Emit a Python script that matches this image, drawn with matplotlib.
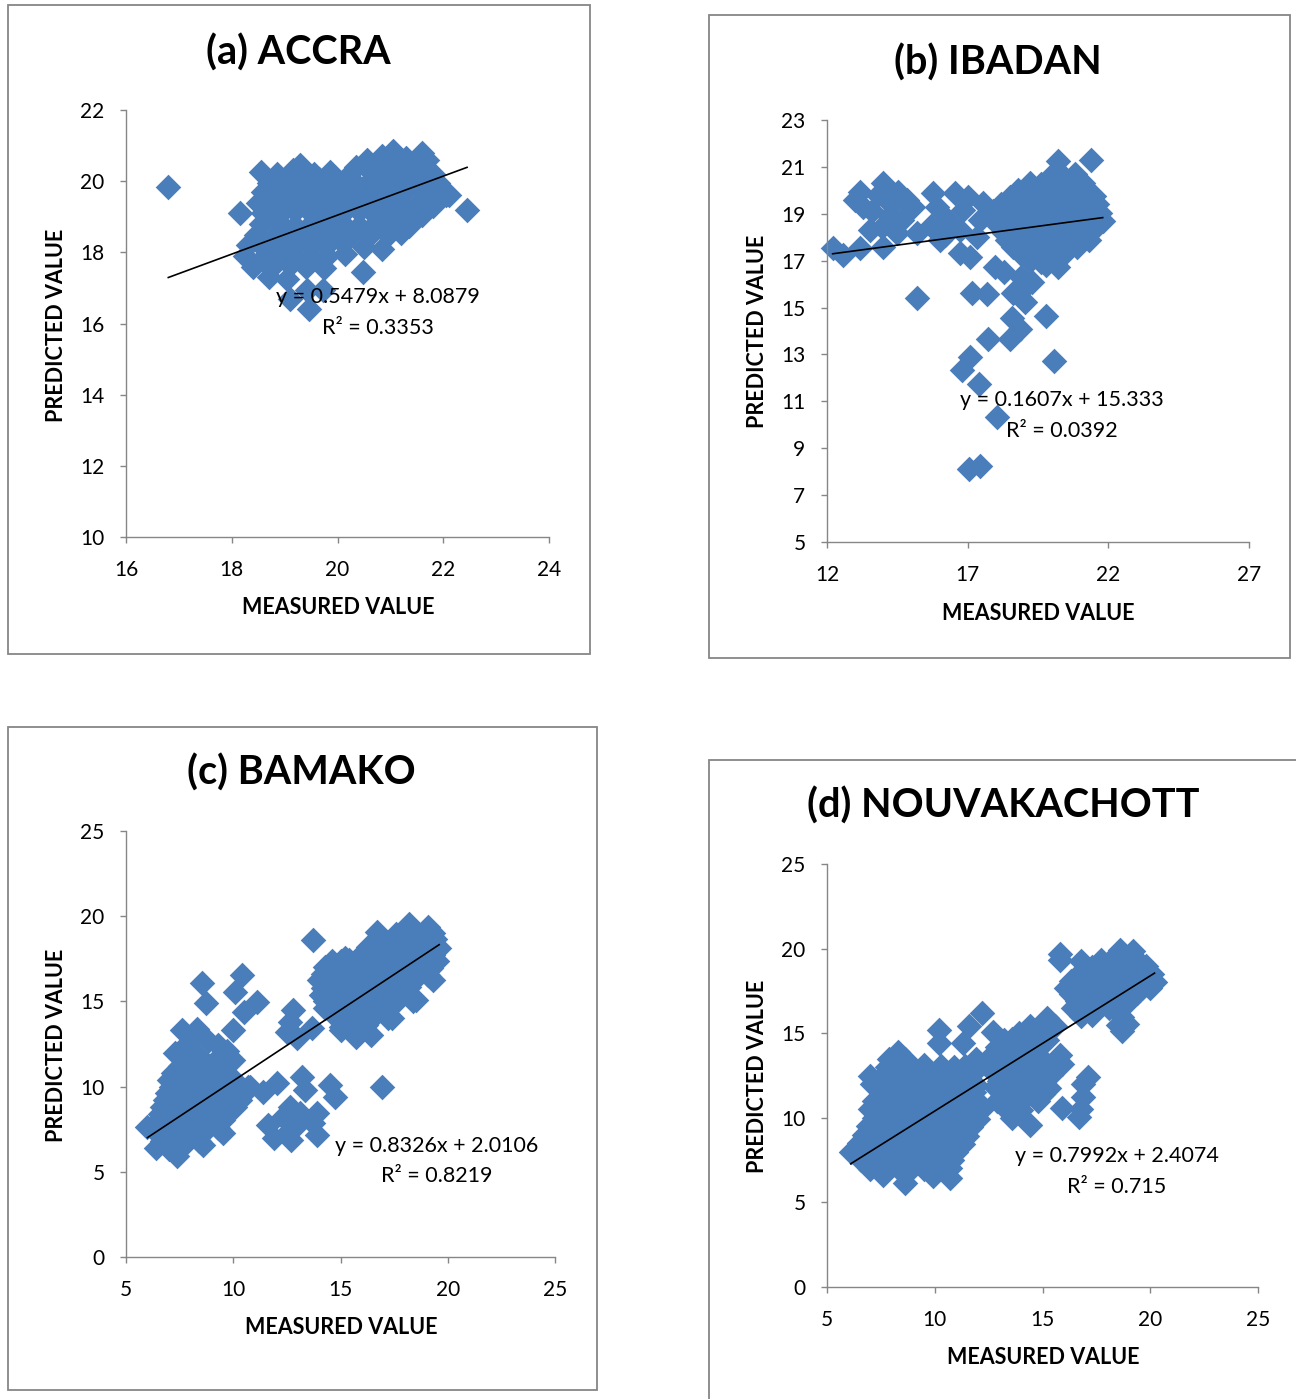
"""
Four-panel measured vs predicted scatter (Excel-style), one framed box per city.
"""
import matplotlib
matplotlib.use("Agg")
import matplotlib.pyplot as plt
from matplotlib.patches import Rectangle

W, H = 1296, 1399
plt.rcParams["font.family"] = ["Lato", "DejaVu Sans"]

BLUE  = "#4a7ebb"
GREY  = "#868686"

# ---------------- (a) ACCRA ----------------
ACCRA_MEASURED = [
    21.05, 21.6,
    20.55, 20.85, 21.3, 21.7,
    19.3, 20.35, 20.75, 21.1, 21.45,
    18.55, 18.85, 19.15, 19.55, 19.85, 20.2, 20.6, 20.95, 21.25, 21.55, 21.8,
    18.7, 19.0, 19.35, 19.65, 19.95, 20.3, 20.65, 20.95, 21.2, 21.5, 21.9,
    18.6, 18.9, 19.2, 19.5, 19.8, 20.1, 20.4, 20.7, 21.0, 21.3, 21.65, 22.05,
    18.5, 18.8, 19.1, 19.4, 19.7, 20.0, 20.3, 20.6, 20.9, 21.2, 21.5, 21.8,
    18.6, 18.9, 19.2, 19.5, 19.8, 20.1, 20.4, 20.7, 21.0, 21.3, 21.6,
    18.55, 18.9, 19.2, 19.5, 19.8, 20.1, 20.4, 20.7, 21.0, 21.35,
    18.45, 18.8, 19.1, 19.4, 19.7, 20.0, 20.3, 20.6, 20.95, 21.2,
    18.3, 18.6, 18.9, 19.2, 19.5, 19.8, 20.1, 20.5, 20.85,
    18.25, 18.6, 18.9, 19.2, 19.5, 19.8, 20.15,
    18.4, 18.75, 19.1, 19.4, 19.75,
    18.7, 19.05,
    16.8, 18.15, 22.45, 22.1, 19.42, 19.46, 19.72, 20.48, 19.1,
]
ACCRA_PREDICTED = [
    20.85, 20.8,
    20.6, 20.7, 20.65, 20.6,
    20.45, 20.4, 20.5, 20.45, 20.4,
    20.25, 20.2, 20.3, 20.2, 20.25, 20.15, 20.3, 20.25, 20.2, 20.3, 20.2,
    19.95, 20.0, 19.95, 20.05, 19.9, 20.0, 20.05, 19.95, 20.0, 20.05, 19.95,
    19.7, 19.65, 19.75, 19.7, 19.65, 19.7, 19.75, 19.7, 19.65, 19.75, 19.7, 19.6,
    19.4, 19.45, 19.35, 19.4, 19.45, 19.4, 19.35, 19.4, 19.45, 19.4, 19.35, 19.3,
    19.1, 19.05, 19.15, 19.1, 19.05, 19.1, 19.15, 19.05, 19.1, 19.0, 19.05,
    18.8, 18.85, 18.75, 18.8, 18.85, 18.8, 18.75, 18.8, 18.85, 18.75,
    18.5, 18.45, 18.55, 18.5, 18.45, 18.5, 18.55, 18.45, 18.5, 18.55,
    18.2, 18.15, 18.25, 18.2, 18.15, 18.2, 18.25, 18.15, 18.1,
    17.9, 17.85, 17.95, 17.9, 17.85, 17.9, 17.95,
    17.6, 17.55, 17.65, 17.6, 17.55,
    17.3, 17.25,
    19.85, 19.1, 19.2, 19.6, 16.94, 16.4, 16.95, 17.45, 16.7,
]

# ---------------- (b) IBADAN ----------------
IBADAN_MEASURED = [
    # sparse left part
    12.2, 12.57, 13.17, 14.0, 13.17, 13.28, 13.0, 13.53, 13.96, 14.0, 13.6, 14.52,
    14.31, 14.84, 15.06, 14.67, 15.2, 14.5, 15.77, 15.91, 16.0, 16.55, 17.0, 16.83,
    16.3, 16.73, 16.73, 17.08, 17.44, 17.55, 17.33, 15.7, 16.2, 14.2, 13.8,
    # low outliers
    15.2, 17.15, 17.69, 18.6, 19.04, 18.58, 18.86, 18.5, 19.78, 17.72, 17.08, 16.8,
    17.4, 20.07, 18.04, 17.05, 17.44, 19.1, 17.97, 18.3, 18.9, 19.3,
    # dense right cloud
    20.2, 21.4,
    20.0, 20.4, 20.8,
    19.2, 19.6, 19.9, 20.2, 20.5, 20.8, 21.1,
    18.8, 19.1, 19.4, 19.7, 20.0, 20.3, 20.6, 20.9, 21.2,
    18.5, 18.8, 19.1, 19.4, 19.7, 20.0, 20.3, 20.6, 20.9, 21.2, 21.5,
    18.2, 18.5, 18.8, 19.1, 19.4, 19.7, 20.0, 20.3, 20.6, 20.9, 21.2, 21.6,
    17.9, 18.3, 18.7, 19.0, 19.3, 19.6, 19.9, 20.2, 20.5, 20.8, 21.1, 21.4, 21.7,
    18.0, 18.4, 18.8, 19.1, 19.4, 19.7, 20.0, 20.3, 20.6, 20.9, 21.2, 21.5, 21.8,
    18.1, 18.5, 18.9, 19.2, 19.5, 19.8, 20.1, 20.4, 20.7, 21.0, 21.3, 21.6,
    18.3, 18.7, 19.0, 19.3, 19.6, 19.9, 20.2, 20.5, 20.8, 21.1, 21.4,
    18.4, 18.8, 19.2, 19.5, 19.8, 20.1, 20.4, 20.7, 21.0, 21.3,
    18.6, 19.0, 19.4, 19.7, 20.0, 20.3, 20.6, 20.9,
    18.9, 19.3, 19.7, 20.0, 20.4,
    19.2, 19.6, 20.1,
    19.8, 20.2,
]
IBADAN_PREDICTED = [
    17.54, 17.24, 17.54, 20.3, 19.93, 19.29, 19.6, 18.31, 18.44, 17.58, 19.1, 19.93,
    19.38, 19.6, 19.29, 18.74, 18.18, 18.18, 19.89, 19.29, 17.88, 19.89, 19.72, 19.16,
    18.74, 18.31, 17.33, 17.16, 18.74, 19.46, 18.01, 18.5, 18.1, 18.9, 19.8,
    15.41, 15.6, 15.58, 15.6, 15.24, 14.56, 14.09, 13.66, 14.64, 13.66, 12.89, 12.34,
    11.74, 12.72, 10.33, 8.11, 8.24, 15.96, 16.73, 16.5, 16.3, 16.1,
    21.25, 21.3,
    20.65, 20.6, 20.7,
    20.3, 20.25, 20.35, 20.3, 20.25, 20.35, 20.3,
    20.0, 19.95, 20.05, 20.0, 19.95, 20.0, 20.05, 20.0, 19.95,
    19.7, 19.65, 19.75, 19.7, 19.65, 19.7, 19.75, 19.7, 19.65, 19.7, 19.75,
    19.4, 19.35, 19.45, 19.4, 19.35, 19.4, 19.45, 19.4, 19.35, 19.4, 19.45, 19.4,
    19.1, 19.05, 19.15, 19.1, 19.05, 19.1, 19.15, 19.1, 19.05, 19.1, 19.15, 19.1, 19.05,
    18.8, 18.75, 18.85, 18.8, 18.75, 18.8, 18.85, 18.8, 18.75, 18.8, 18.85, 18.8, 18.7,
    18.5, 18.45, 18.55, 18.5, 18.45, 18.5, 18.55, 18.5, 18.45, 18.5, 18.55, 18.5,
    18.2, 18.15, 18.25, 18.2, 18.15, 18.2, 18.25, 18.2, 18.15, 18.2, 18.25,
    17.9, 17.85, 17.95, 17.9, 17.85, 17.9, 17.95, 17.9, 17.85, 17.9,
    17.6, 17.55, 17.65, 17.6, 17.55, 17.6, 17.65, 17.6,
    17.3, 17.25, 17.35, 17.3, 17.25,
    17.0, 16.95, 17.05,
    16.8, 16.75,
]

# ---------------- (c) BAMAKO ----------------
BAMAKO_MEASURED = [
    # lower-left cluster
    7.6, 8.3,
    8.8,
    7.9, 9.3,
    7.3, 8.2, 9.7,
    7.8, 8.5, 9.3, 10.0,
    7.5, 8.1, 8.8, 9.6,
    7.2, 7.7, 8.3, 8.9, 9.4,
    7.0, 7.5, 8.0, 8.5, 9.0, 9.5, 10.0,
    7.1, 7.6, 8.1, 8.6, 9.1, 9.6, 10.1, 10.7,
    6.9, 7.4, 7.9, 8.4, 8.9, 9.4, 9.9, 10.4,
    6.8, 7.3, 7.8, 8.3, 8.8, 9.3, 9.8, 10.3,
    6.7, 7.2, 7.7, 8.2, 8.7, 9.2, 9.7, 10.1,
    6.6, 7.1, 7.6, 8.1, 8.6, 9.1, 9.6,
    6.5, 7.0, 7.5, 8.0, 8.5, 9.0, 9.5,
    6.0, 6.6, 7.1, 7.6, 8.1, 8.6, 9.3,
    6.5, 7.0, 7.5, 8.0, 8.5, 9.5,
    6.7, 7.3, 7.9, 8.4,
    6.4, 7.0, 7.6, 8.6,
    7.4,
    # scattered above
    8.54, 10.4, 10.08, 8.73, 11.1, 10.5, 10.0,
    # middle-bottom group
    11.6, 12.04, 11.39, 10.78, 12.5, 12.65, 13.1, 13.2, 13.35, 13.9, 13.9, 13.7,
    14.5, 14.74, 16.94, 12.7, 12.3, 13.0, 11.9,
    # middle-upper
    13.72, 12.8, 12.65, 12.97, 12.5, 13.67,
    # upper-right cluster
    18.2, 19.1,
    16.7, 17.6, 18.0, 18.5, 18.9, 19.3,
    17.0, 17.4, 17.8, 18.2, 18.6, 19.0, 19.4,
    16.3, 16.8, 17.2, 17.6, 18.0, 18.4, 18.8, 19.2, 19.6,
    15.2, 16.0, 16.5, 16.9, 17.3, 17.7, 18.1, 18.5, 18.9, 19.3,
    14.6, 15.0, 15.4, 15.8, 16.2, 16.6, 17.0, 17.4, 17.8, 18.2, 18.6, 19.0, 19.5,
    14.3, 14.8, 15.2, 15.6, 16.0, 16.4, 16.8, 17.2, 17.6, 18.0, 18.4, 18.8, 19.2,
    14.2, 14.6, 15.0, 15.4, 15.8, 16.2, 16.6, 17.0, 17.4, 17.8, 18.2, 18.6, 19.1,
    14.0, 14.4, 14.8, 15.2, 15.6, 16.0, 16.4, 16.8, 17.2, 17.6, 18.0, 18.4, 19.3,
    14.2, 14.6, 15.0, 15.4, 15.8, 16.2, 16.6, 17.0, 17.4, 17.8, 18.2,
    14.1, 14.5, 14.9, 15.3, 15.7, 16.1, 16.5, 16.9, 17.3, 17.7, 18.1, 18.5,
    14.3, 14.7, 15.1, 15.5, 15.9, 16.3, 16.8, 17.2, 17.6, 18.4,
    14.3, 14.8, 15.2, 15.6, 16.0, 16.4, 17.0, 17.4,
    14.8, 15.4, 16.0, 16.5, 17.2,
    15.0, 15.5, 16.2,
    15.0, 15.7, 16.4,
]
BAMAKO_PREDICTED = [
    13.3, 13.4,
    12.7,
    12.55, 12.45,
    12.0, 11.95, 12.1,
    11.6, 11.55, 11.65, 11.55,
    11.2, 11.15, 11.25, 11.2,
    10.8, 10.75, 10.85, 10.8, 10.75,
    10.4, 10.35, 10.45, 10.4, 10.35, 10.4, 10.45,
    10.0, 9.95, 10.05, 10.0, 9.95, 10.0, 10.05, 9.95,
    9.6, 9.55, 9.65, 9.6, 9.55, 9.6, 9.65, 9.6,
    9.2, 9.15, 9.25, 9.2, 9.15, 9.2, 9.25, 9.2,
    8.8, 8.75, 8.85, 8.8, 8.75, 8.8, 8.85, 8.8,
    8.4, 8.35, 8.45, 8.4, 8.35, 8.4, 8.45,
    8.0, 7.95, 8.05, 8.0, 7.95, 8.0, 8.05,
    7.65, 7.6, 7.55, 7.6, 7.65, 7.6, 7.55,
    7.2, 7.15, 7.25, 7.2, 7.15, 7.25,
    6.8, 6.75, 6.85, 6.8,
    6.4, 6.35, 6.45, 6.55,
    5.9,
    16.08, 16.55, 15.55, 14.9, 14.96, 14.38, 13.32,
    7.75, 10.2, 9.68, 9.98, 7.27, 8.8, 8.45, 10.56, 9.8, 8.45, 7.16, 7.86,
    10.1, 9.39, 9.98, 6.87, 8.2, 7.8, 7.0,
    18.6, 14.5, 13.8, 12.85, 13.2, 13.44,
    19.55, 19.35,
    19.05, 18.95, 19.0, 19.05, 18.95, 19.0,
    18.6, 18.55, 18.65, 18.6, 18.55, 18.6, 18.65,
    18.2, 18.15, 18.25, 18.2, 18.15, 18.2, 18.25, 18.2, 18.15,
    17.55, 17.8, 17.75, 17.85, 17.8, 17.75, 17.8, 17.85, 17.8, 17.75,
    17.4, 17.35, 17.45, 17.4, 17.35, 17.4, 17.45, 17.4, 17.35, 17.4, 17.45, 17.4, 17.35,
    17.0, 16.95, 17.05, 17.0, 16.95, 17.0, 17.05, 17.0, 16.95, 17.0, 17.05, 17.0, 16.95,
    16.6, 16.55, 16.65, 16.6, 16.55, 16.6, 16.65, 16.6, 16.55, 16.6, 16.65, 16.6, 16.55,
    16.25, 16.2, 16.15, 16.2, 16.25, 16.2, 16.15, 16.2, 16.25, 16.2, 16.15, 16.2, 16.25,
    15.8, 15.75, 15.85, 15.8, 15.75, 15.8, 15.85, 15.8, 15.75, 15.8, 15.85,
    15.4, 15.35, 15.45, 15.4, 15.35, 15.4, 15.45, 15.4, 15.35, 15.4, 15.45, 15.1,
    15.0, 14.95, 15.05, 15.0, 14.95, 15.0, 15.05, 15.0, 14.95, 15.05,
    14.6, 14.55, 14.65, 14.6, 14.55, 14.6, 14.5, 14.0,
    14.1, 14.05, 14.15, 14.1, 14.0,
    13.5, 13.65, 13.6,
    13.3, 12.9, 13.05,
]

# ---------------- (d) NOUVAKACHOTT ----------------
NOUAK_MEASURED = [
    # left blob
    10.2, 11.6, 12.2,
    10.2, 11.3,
    8.3,
    7.9, 8.6, 11.9,
    7.8, 8.3, 9.0, 9.5, 10.3, 10.9, 11.4, 12.0,
    7.0, 7.6, 8.4, 9.0, 9.6, 10.2, 10.7, 11.2,
    7.1, 7.7, 8.3, 8.9, 9.5, 10.1, 10.7, 11.3, 11.9,
    7.6, 8.2, 8.8, 9.4, 10.0, 10.6, 11.2, 11.8,
    7.2, 7.8, 8.4, 9.0, 9.6, 10.2, 10.8, 11.4, 12.0,
    7.0, 7.5, 8.1, 8.7, 9.3, 9.9, 10.5, 11.1, 11.7, 12.2,
    7.2, 7.8, 8.4, 9.0, 9.6, 10.2, 10.8, 11.4, 12.0,
    6.9, 7.5, 8.1, 8.7, 9.3, 9.9, 10.5, 11.1, 11.7,
    6.7, 7.3, 7.9, 8.5, 9.1, 9.7, 10.3, 10.9, 11.5,
    6.5, 7.1, 7.7, 8.3, 8.9, 9.5, 10.1, 10.7, 11.3,
    6.1, 6.8, 7.4, 8.0, 8.6, 9.2, 9.8, 10.4, 11.0,
    6.6, 7.2, 7.8, 8.4, 9.0, 9.6, 10.2, 10.8,
    7.0, 7.6, 8.3, 8.9, 9.5, 10.1, 10.7,
    7.6, 9.9, 10.7,
    8.6,
    # middle group
    15.2,
    14.4, 15.6,
    12.7, 13.9, 14.8,
    13.2, 13.6, 14.3, 15.2,
    12.9, 13.5, 14.1, 14.7,
    12.7, 13.3, 13.9, 14.5, 15.8,
    12.9, 13.5, 14.1, 15.0, 15.9,
    12.6, 13.2, 13.8, 14.4, 15.2,
    12.8, 13.4, 14.0, 14.6, 15.4,
    13.0, 13.6, 14.2, 14.8, 17.1,
    12.8, 13.4, 14.0, 14.6, 15.3, 16.9,
    13.1, 13.7, 14.3, 15.0,
    12.9, 13.5, 14.1, 14.8, 16.9,
    13.3, 14.0, 15.9, 16.8,
    13.6, 16.7,
    14.4,
    # upper-right cluster
    15.8, 18.6, 19.2,
    15.8, 16.8, 17.7, 18.2, 18.7, 19.4,
    17.3, 17.8, 18.3, 18.8, 19.3, 19.8,
    16.7, 17.1, 17.6, 18.1, 18.6, 19.1, 19.6, 20.1,
    16.3, 16.8, 17.3, 17.8, 18.3, 18.8, 19.3, 19.8, 20.2,
    16.1, 16.6, 17.1, 17.6, 18.1, 18.6, 19.1, 19.6, 20.0,
    16.3, 16.8, 17.3, 17.8, 18.3, 18.8, 19.4,
    16.6, 17.1, 17.6, 18.1, 18.6, 19.0,
    16.4, 17.0, 17.6, 18.1,
    16.8, 17.3, 18.7,
    18.5, 18.9,
    18.7,
]
NOUAK_PREDICTED = [
    15.2, 15.4, 16.2,
    14.4, 14.4,
    13.9,
    13.5, 13.5, 13.5,
    13.0, 13.05, 12.95, 13.1, 13.05, 13.0, 13.05, 12.95,
    12.5, 12.45, 12.55, 12.5, 12.45, 12.5, 12.55, 12.5,
    12.0, 11.95, 12.05, 12.0, 11.95, 12.0, 12.05, 12.0, 11.95,
    11.5, 11.45, 11.55, 11.5, 11.45, 11.5, 11.55, 11.5,
    11.0, 10.95, 11.05, 11.0, 10.95, 11.0, 11.05, 11.0, 10.95,
    10.5, 10.45, 10.55, 10.5, 10.45, 10.5, 10.55, 10.5, 10.45, 10.5,
    10.0, 9.95, 10.05, 10.0, 9.95, 10.0, 10.05, 10.0, 9.95,
    9.5, 9.45, 9.55, 9.5, 9.45, 9.5, 9.55, 9.5, 9.45,
    9.0, 8.95, 9.05, 9.0, 8.95, 9.0, 9.05, 9.0, 8.95,
    8.5, 8.45, 8.55, 8.5, 8.45, 8.5, 8.55, 8.5, 8.45,
    8.0, 7.95, 8.05, 8.0, 7.95, 8.0, 8.05, 8.0, 7.95,
    7.5, 7.45, 7.55, 7.5, 7.45, 7.5, 7.55, 7.5,
    7.0, 6.95, 7.05, 7.0, 6.95, 7.0, 7.05,
    6.6, 6.55, 6.45,
    6.15,
    15.9,
    15.4, 15.45,
    15.1, 15.0, 14.95,
    14.6, 14.65, 14.55, 14.6,
    14.2, 14.15, 14.25, 14.2,
    13.8, 13.75, 13.85, 13.8, 13.7,
    13.4, 13.35, 13.45, 13.4, 13.2,
    13.0, 12.95, 13.05, 13.0, 12.95,
    12.6, 12.55, 12.65, 12.6, 12.55,
    12.2, 12.15, 12.25, 12.2, 12.4,
    11.8, 11.75, 11.85, 11.8, 11.75, 12.0,
    11.4, 11.35, 11.45, 11.4,
    11.0, 10.95, 11.05, 11.0, 11.2,
    10.5, 10.45, 10.6, 10.5,
    10.0, 10.05,
    9.6,
    19.7, 19.9, 19.85,
    19.3, 19.25, 19.35, 19.3, 19.4, 19.3,
    18.9, 18.85, 18.95, 18.9, 18.85, 18.95,
    18.5, 18.45, 18.55, 18.5, 18.45, 18.5, 18.55, 18.5,
    18.1, 18.05, 18.15, 18.1, 18.05, 18.1, 18.15, 18.1, 18.05,
    17.7, 17.65, 17.75, 17.7, 17.65, 17.7, 17.75, 17.7, 17.65,
    17.3, 17.25, 17.35, 17.3, 17.25, 17.3, 17.35,
    16.9, 16.85, 16.95, 16.9, 16.85, 16.9,
    16.5, 16.45, 16.55, 16.5,
    16.0, 16.05, 15.95,
    15.5, 15.55,
    15.15,
]

# trendline: slope, intercept; equation/R² text as printed in the chart
PANELS = [
    dict(title="(a) ACCRA", x=ACCRA_MEASURED, y=ACCRA_PREDICTED,
         slope=0.5479, icpt=8.0879, eq="y = 0.5479x + 8.0879", r2="R² = 0.3353",
         xlim=(16, 24), xticks=[16, 18, 20, 22, 24],
         ylim=(10, 22), yticks=[10, 12, 14, 16, 18, 20, 22],
         eq_xy=(20.77, 16.75), r2_xy=(20.77, 15.87),
         ax_px=(126, 110, 549, 537), frame_px=(8, 5, 590, 654),
         title_px=(298, 53), xl_px=(338, 607), yl_px=(57, 325)),
    dict(title="(b) IBADAN", x=IBADAN_MEASURED, y=IBADAN_PREDICTED,
         slope=0.1607, icpt=15.333, eq="y = 0.1607x + 15.333", r2="R² = 0.0392",
         xlim=(12, 27), xticks=[12, 17, 22, 27],
         ylim=(5, 23), yticks=[5, 7, 9, 11, 13, 15, 17, 19, 21, 23],
         eq_xy=(20.35, 11.06), r2_xy=(20.35, 9.74),
         ax_px=(827, 120, 1249, 542), frame_px=(709, 15, 1290, 658),
         title_px=(998, 63), xl_px=(1038, 613), yl_px=(757, 331)),
    dict(title="(c) BAMAKO", x=BAMAKO_MEASURED, y=BAMAKO_PREDICTED,
         slope=0.8326, icpt=2.0106, eq="y = 0.8326x + 2.0106", r2="R² = 0.8219",
         xlim=(5, 25), xticks=[5, 10, 15, 20, 25],
         ylim=(0, 25), yticks=[0, 5, 10, 15, 20, 25],
         eq_xy=(19.5, 6.51), r2_xy=(19.5, 4.75),
         ax_px=(126, 831, 555, 1257), frame_px=(8, 727, 597, 1390),
         title_px=(301, 773), xl_px=(341, 1328), yl_px=(57, 1045)),
    dict(title="(d) NOUVAKACHOTT", x=NOUAK_MEASURED, y=NOUAK_PREDICTED,
         slope=0.7992, icpt=2.4074, eq="y = 0.7992x + 2.4074", r2="R² = 0.715",
         xlim=(5, 25), xticks=[5, 10, 15, 20, 25],
         ylim=(0, 25), yticks=[0, 5, 10, 15, 20, 25],
         eq_xy=(18.46, 7.74), r2_xy=(18.46, 5.91),
         ax_px=(827, 864, 1258, 1287), frame_px=(709, 760, 1310, 1410),
         title_px=(1003, 806), xl_px=(1043, 1357), yl_px=(757, 1076)),
]


def fx(px):
    return px / W


def fy(py):
    return 1 - py / H


fig = plt.figure(figsize=(W / 100, H / 100), dpi=100)

for p in PANELS:
    assert len(p["x"]) == len(p["y"]), p["title"]
    x0, y0, x1, y1 = p["frame_px"]
    fig.patches.append(Rectangle((fx(x0), fy(y1)), fx(x1 - x0), (y1 - y0) / H,
                                 transform=fig.transFigure, fill=False,
                                 edgecolor=GREY, linewidth=1.3, zorder=0))

    l, t, r, b = p["ax_px"]
    ax = fig.add_axes([fx(l), fy(b), fx(r - l), (b - t) / H])
    ax.scatter(p["x"], p["y"], marker="D", s=170, color=BLUE, linewidths=0,
               zorder=2, clip_on=False)
    xs = [min(p["x"]), max(p["x"])]
    ax.plot(xs, [p["slope"] * v + p["icpt"] for v in xs], color="black",
            linewidth=1.2, zorder=3)

    ax.set_xlim(*p["xlim"])
    ax.set_ylim(*p["ylim"])
    ax.set_xticks(p["xticks"])
    ax.set_yticks(p["yticks"])
    for side in ("top", "right"):
        ax.spines[side].set_visible(False)
    for side in ("left", "bottom"):
        ax.spines[side].set_color(GREY)
        ax.spines[side].set_linewidth(1.0)
    ax.tick_params(direction="out", length=4.5, width=1.0, color=GREY,
                   labelsize=15, labelcolor="black")
    ax.tick_params(axis="x", pad=12)
    ax.tick_params(axis="y", pad=11)
    ax.patch.set_alpha(0)

    ax.text(*p["eq_xy"], p["eq"], ha="center", va="center", fontsize=15.5, zorder=4)
    ax.text(*p["r2_xy"], p["r2"], ha="center", va="center", fontsize=15.5, zorder=4)

    fig.text(fx(p["title_px"][0]), fy(p["title_px"][1]), p["title"],
             ha="center", va="center", fontsize=28.5, fontweight="bold")
    fig.text(fx(p["xl_px"][0]), fy(p["xl_px"][1]), "MEASURED VALUE",
             ha="center", va="center", fontsize=15.5, fontweight="bold")
    fig.text(fx(p["yl_px"][0]), fy(p["yl_px"][1]), "PREDICTED VALUE",
             ha="center", va="center", fontsize=15.5, fontweight="bold", rotation=90)

fig.savefig("out.png", dpi=100)
